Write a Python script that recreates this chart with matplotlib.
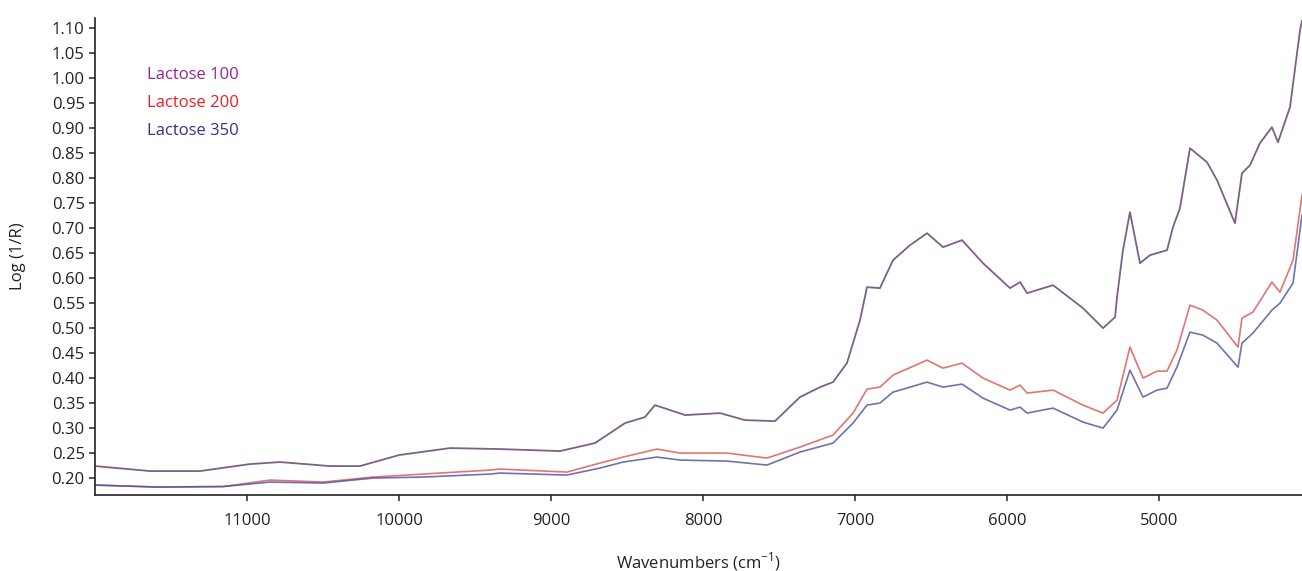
import numpy as np
import matplotlib.pyplot as plt

plt.rcParams['font.family'] = ['Open Sans', 'DejaVu Sans']

# Lactose 100 (top trace)
wn_100 = [12000, 11638, 11309, 10980, 10783, 10454, 10257, 10000, 9664, 9336,
          8941, 8711, 8513, 8382, 8316, 8217, 8118, 7888, 7724, 7526,
          7362, 7230, 7145, 7053, 6967, 6921, 6836, 6750, 6638, 6526,
          6421, 6296, 6158, 5980, 5914, 5868, 5697, 5500, 5368, 5289,
          5276, 5237, 5191, 5125, 5059, 4947, 4908, 4862, 4796, 4684,
          4618, 4500, 4454, 4401, 4336, 4257, 4217, 4138, 4072, 4059]
ab_100 = [0.224, 0.214, 0.214, 0.228, 0.232, 0.224, 0.224, 0.246, 0.260, 0.258,
          0.254, 0.270, 0.310, 0.322, 0.346, 0.336, 0.326, 0.330, 0.316, 0.314,
          0.362, 0.382, 0.392, 0.430, 0.516, 0.582, 0.580, 0.636, 0.666, 0.690,
          0.662, 0.676, 0.630, 0.580, 0.592, 0.570, 0.586, 0.540, 0.500, 0.522,
          0.562, 0.656, 0.732, 0.630, 0.646, 0.656, 0.702, 0.740, 0.860, 0.832,
          0.796, 0.710, 0.810, 0.826, 0.870, 0.902, 0.872, 0.942, 1.096, 1.115]

# Lactose 200 / 350 (lower traces)
wn_low = [12000, 11592, 11158, 10849, 10500, 10171, 9842, 9401, 9336, 8895,
          8678, 8526, 8303, 8151, 7842, 7579, 7362, 7145, 7013, 6921,
          6836, 6750, 6526, 6421, 6296, 6158, 5980, 5914, 5868, 5697,
          5500, 5368, 5276, 5191, 5105, 5013, 4947, 4882, 4796, 4711,
          4618, 4480, 4454, 4382, 4257, 4204, 4118, 4059]
ab_200 = [0.186, 0.182, 0.183, 0.196, 0.192, 0.202, 0.208, 0.216, 0.218, 0.212,
          0.230, 0.242, 0.258, 0.250, 0.250, 0.240, 0.262, 0.286, 0.330, 0.378,
          0.382, 0.406, 0.436, 0.420, 0.430, 0.400, 0.376, 0.386, 0.370, 0.376,
          0.346, 0.330, 0.356, 0.462, 0.400, 0.414, 0.414, 0.456, 0.546, 0.536,
          0.516, 0.462, 0.520, 0.532, 0.592, 0.572, 0.636, 0.766]
ab_350 = [0.186, 0.182, 0.183, 0.192, 0.190, 0.200, 0.202, 0.208, 0.210, 0.206,
          0.220, 0.232, 0.242, 0.236, 0.234, 0.226, 0.252, 0.270, 0.310, 0.346,
          0.350, 0.372, 0.392, 0.382, 0.388, 0.360, 0.336, 0.342, 0.330, 0.340,
          0.312, 0.300, 0.336, 0.416, 0.362, 0.376, 0.380, 0.422, 0.492, 0.486,
          0.470, 0.422, 0.470, 0.490, 0.536, 0.550, 0.590, 0.726]

labels = ['Lactose 100', 'Lactose 200', 'Lactose 350']
text_colors = ['#93278f', '#ed1c24', '#2e3192']

fig = plt.figure(figsize=(13.02, 5.71), dpi=100)
ax = fig.add_axes([0.073, 0.133, 0.927, 0.835])

ax.plot(wn_low, ab_200, color='#d9534f', lw=1.2, alpha=0.8)
ax.plot(wn_low, ab_350, color='#4a4f9a', lw=1.2, alpha=0.8)
ax.plot(wn_100, ab_100, color='#6e4f78', lw=1.3, alpha=0.9)

ax.set_xlim(12000, 4059)
ax.set_ylim(0.166, 1.12)
ax.set_xticks([11000, 10000, 9000, 8000, 7000, 6000, 5000])
ax.set_yticks(np.arange(0.20, 1.101, 0.05))
ax.yaxis.set_major_formatter(plt.FuncFormatter(lambda v, p: f'{v:.2f}'))

for sp in ['top', 'right']:
    ax.spines[sp].set_visible(False)
for sp in ['left', 'bottom']:
    ax.spines[sp].set_color('#222222')
    ax.spines[sp].set_linewidth(1.2)
ax.tick_params(axis='both', direction='out', length=4, width=1.1,
               color='#222222', labelsize=12, labelcolor='#222222')
ax.tick_params(axis='x', pad=9)

ax.set_xlabel('Wavenumbers (cm$^{\\mathregular{-1}}$)', fontsize=12,
              color='#222222', labelpad=15)
ax.set_ylabel('Log (1/R)', fontsize=12, color='#222222', labelpad=18)

for i, (lab, c) in enumerate(zip(labels, text_colors)):
    ax.text(0.043, 0.88 - i * 0.058, lab, transform=ax.transAxes,
            color=c, fontsize=12, va='center', ha='left')

fig.savefig('out.png', dpi=100)
